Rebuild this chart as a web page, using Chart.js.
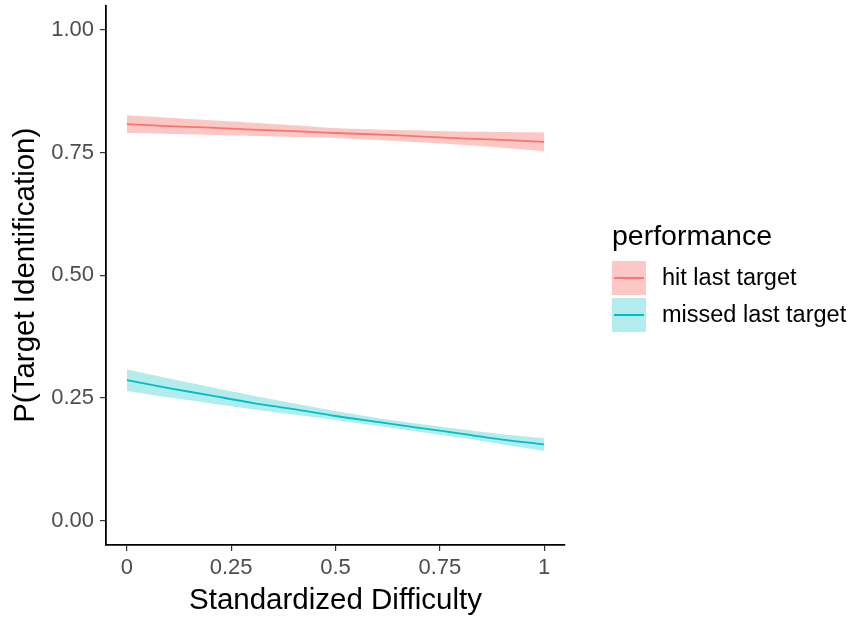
<!DOCTYPE html>
<html><head><meta charset="utf-8">
<script src="https://cdn.jsdelivr.net/npm/chart.js@4/dist/chart.umd.min.js"></script>
<style>
html,body{margin:0;padding:0;background:#fff;}
#wrap{position:relative;width:854px;height:621px;}
canvas{position:absolute;left:0;top:0;}
#legend{position:absolute;left:612px;top:218px;font-family:"Liberation Sans",Arial,sans-serif;}
#legend .title{font-size:28.5px;color:#000;margin-bottom:7px;line-height:34px;}
#legend .item{display:flex;align-items:center;height:37px;}
#legend .key{position:relative;width:34px;height:34px;margin-right:16px;}
#legend .key span{position:absolute;left:2px;right:2px;top:16px;height:2px;}
#legend .lab{font-size:23.5px;color:#000;}
</style></head><body>
<div id="wrap"><canvas id="c" width="854" height="621"></canvas>
<div id="legend">
  <div class="title">performance</div>
  <div class="item"><div class="key" style="background:rgba(248,118,109,0.4)"><span style="background:#F8766D"></span></div><div class="lab">hit last target</div></div>
  <div class="item"><div class="key" style="background:rgba(0,191,196,0.3)"><span style="background:#00BFC4"></span></div><div class="lab">missed last target</div></div>
</div></div>
<script>
const difficulty = [0, 0.1, 0.2, 0.3, 0.4, 0.5, 0.6, 0.7, 0.8, 0.9, 1.0];
const hitFit   = [0.808, 0.804, 0.801, 0.797, 0.794, 0.790, 0.787, 0.783, 0.779, 0.776, 0.772];
const hitLower = [0.790, 0.788, 0.786, 0.784, 0.782, 0.780, 0.776, 0.771, 0.766, 0.760, 0.753];
const hitUpper = [0.826, 0.821, 0.816, 0.811, 0.806, 0.800, 0.797, 0.795, 0.793, 0.792, 0.791];
const missFit   = [0.286, 0.270, 0.255, 0.240, 0.227, 0.213, 0.201, 0.189, 0.177, 0.165, 0.155];
const missLower = [0.264, 0.251, 0.239, 0.227, 0.216, 0.205, 0.193, 0.181, 0.169, 0.155, 0.142];
const missUpper = [0.308, 0.290, 0.272, 0.255, 0.239, 0.223, 0.209, 0.197, 0.186, 0.176, 0.168];
const xTicks = [0, 0.25, 0.5, 0.75, 1];
const xTickLabels = ["0", "0.25", "0.5", "0.75", "1"];
const yTicks = [0, 0.25, 0.5, 0.75, 1];
const yTickLabels = ["0.00", "0.25", "0.50", "0.75", "1.00"];

const pts = arr => arr.map((v, i) => ({x: difficulty[i], y: v}));
const RED = '#F8766D', TEAL = '#00BFC4';
const base = {pointRadius: 0, borderWidth: 0, tension: 0.3};
const FONT = '"Liberation Sans", Arial, sans-serif';

new Chart(document.getElementById('c'), {
  type: 'line',
  data: {datasets: [
    {...base, data: pts(hitLower), fill: false, borderColor: 'transparent'},
    {...base, data: pts(hitUpper), fill: '-1', borderColor: 'transparent', backgroundColor: 'rgba(248,118,109,0.4)'},
    {...base, data: pts(hitFit), fill: false, borderColor: RED, borderWidth: 1.8},
    {...base, data: pts(missLower), fill: false, borderColor: 'transparent'},
    {...base, data: pts(missUpper), fill: '-1', borderColor: 'transparent', backgroundColor: 'rgba(0,191,196,0.3)'},
    {...base, data: pts(missFit), fill: false, borderColor: TEAL, borderWidth: 1.8}
  ]},
  options: {
    responsive: false, animation: false,
    layout: {padding: {top: 5.5, right: 289, left: 0, bottom: 0}},
    plugins: {legend: {display: false}, tooltip: {enabled: false}},
    scales: {
      x: {
        type: 'linear', min: -0.05, max: 1.05,
        afterBuildTicks: s => { s.ticks = xTicks.map(v => ({value: v})); },
        afterFit: s => { s.height = 76; s.paddingLeft = 0; s.paddingRight = 0; },
        ticks: {callback: (v) => xTickLabels[xTicks.indexOf(v)], font: {family: FONT, size: 22}, color: '#4D4D4D', padding: 4, maxRotation: 0},
        grid: {display: true, drawOnChartArea: false, drawTicks: true, tickLength: 6, color: '#333', lineWidth: 1.2},
        border: {display: true, color: '#000', width: 1.8},
        title: {display: true, text: 'Standardized Difficulty', font: {family: FONT, size: 29.5}, color: '#000', padding: {top: 0, bottom: 2}}
      },
      y: {
        type: 'linear', min: -0.05, max: 1.05,
        afterBuildTicks: s => { s.ticks = yTicks.map(v => ({value: v})); },
        afterFit: s => { s.width = 106; s.paddingTop = 0; s.paddingBottom = 0; },
        ticks: {callback: (v) => yTickLabels[yTicks.indexOf(v)], font: {family: FONT, size: 22}, color: '#4D4D4D', padding: 6},
        grid: {display: true, drawOnChartArea: false, drawTicks: true, tickLength: 6, color: '#333', lineWidth: 1.2},
        border: {display: true, color: '#000', width: 1.8},
        title: {display: true, text: 'P(Target Identification)', font: {family: FONT, size: 29.5}, color: '#000', padding: {top: 8, bottom: 0}}
      }
    }
  }
});
</script>
</body></html>
